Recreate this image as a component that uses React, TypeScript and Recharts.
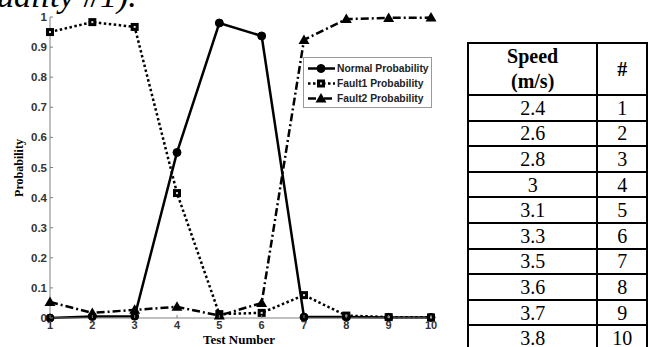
import { LineChart, Line, XAxis, YAxis, Legend } from 'recharts';

const testNumbers = [1, 2, 3, 4, 5, 6, 7, 8, 9, 10];
const normalProb = [0, 0.005, 0.006, 0.55, 0.98, 0.937, 0.003, 0.003, 0.002, 0.002];
const fault1Prob = [0.95, 0.983, 0.967, 0.415, 0.013, 0.017, 0.076, 0.008, 0.003, 0.002];
const fault2Prob = [0.053, 0.017, 0.027, 0.037, 0.008, 0.05, 0.924, 0.993, 0.997, 0.998];
const yTicks = [0, 0.1, 0.2, 0.3, 0.4, 0.5, 0.6, 0.7, 0.8, 0.9, 1];
const yTickLabels = ['0', '0.1', '0.2', '0.3', '0.4', '0.5', '0.6', '0.7', '0.8', '0.9', '1'];
const seriesNames = ['Normal Probability', 'Fault1 Probability', 'Fault2 Probability'];

const speeds = ['2.4', '2.6', '2.8', '3', '3.1', '3.3', '3.5', '3.6', '3.7', '3.8'];
const speedNumbers = ['1', '2', '3', '4', '5', '6', '7', '8', '9', '10'];

const data = testNumbers.map((t, i) => ({
  test: t,
  normal: normalProb[i],
  fault1: fault1Prob[i],
  fault2: fault2Prob[i],
}));

const axisGray = '#808080';
const tickFont = "'Liberation Sans', Arial, sans-serif";
const serif = "'Liberation Serif', 'Times New Roman', serif";

const Circle = ({ cx, cy }: any) => <circle cx={cx} cy={cy} r={4} fill="#000" stroke="#000" />;
const Square = ({ cx, cy }: any) => (
  <g>
    <rect x={cx - 4} y={cy - 4} width={8} height={8} fill="#000" />
    <rect x={cx - 1} y={cy - 1} width={2} height={2} fill="#ddd" />
  </g>
);
const Triangle = ({ cx, cy }: any) => (
  <polygon points={`${cx},${cy - 5.5} ${cx - 5.5},${cy + 4} ${cx + 5.5},${cy + 4}`} fill="#000" />
);

const BottomTick = ({ x, y, payload }: any) => (
  <g>
    <line x1={x} y1={y} x2={x} y2={y - 3} stroke={axisGray} />
    <text x={x} y={y + 11} textAnchor="middle" fontFamily={tickFont} fontWeight="bold" fontSize={11} fill="#333">
      {payload.value}
    </text>
  </g>
);
const TopTick = ({ x, y }: any) => <line x1={x} y1={y} x2={x} y2={y + 3} stroke={axisGray} />;
const LeftTick = ({ x, y, payload, index }: any) => (
  <g>
    <line x1={x} y1={y} x2={x + 3} y2={y} stroke={axisGray} />
    <text x={x - 3} y={y + 4} textAnchor="end" fontFamily={tickFont} fontWeight="bold" fontSize={11.5} fill="#333">
      {yTickLabels[index] ?? payload.value}
    </text>
  </g>
);
const RightTick = ({ x, y }: any) => <line x1={x} y1={y} x2={x - 3} y2={y} stroke={axisGray} />;

const LegendBox = () => {
  const icons = [Circle, Square, Triangle];
  const dashes = [undefined, '2.5 2.5', '8 3 2 3'];
  return (
    <div
      style={{
        width: 129,
        height: 51,
        border: '1px solid #999',
        background: '#fff',
        boxSizing: 'border-box',
        paddingTop: 3,
      }}
    >
      {seriesNames.map((name, i) => {
        const Icon = icons[i];
        return (
          <div key={name} style={{ display: 'flex', alignItems: 'center', height: 15 }}>
            <svg width={33} height={15} style={{ flex: 'none' }}>
              <line x1={4} y1={7.5} x2={31} y2={7.5} stroke="#000" strokeWidth={2.5} strokeDasharray={dashes[i]} />
              <Icon cx={17} cy={7.5} />
            </svg>
            <span style={{ fontFamily: tickFont, fontWeight: 'bold', fontSize: 10.3, color: '#222', whiteSpace: 'nowrap' }}>
              {name}
            </span>
          </div>
        );
      })}
    </div>
  );
};

const cell: React.CSSProperties = {
  border: '2px solid #000',
  padding: 0,
  textAlign: 'center',
  verticalAlign: 'middle',
};

export default function App() {
  return (
    <div
      style={{
        position: 'absolute',
        left: 0,
        top: 0,
        width: 648,
        height: 347,
        overflow: 'hidden',
        background: '#fff',
      }}
    >
      <div
        style={{
          position: 'absolute',
          left: -3,
          top: -21,
          fontFamily: serif,
          fontStyle: 'italic',
          fontSize: 34,
          lineHeight: '34px',
          whiteSpace: 'nowrap',
        }}
      >
        uality #1).
      </div>

      <div style={{ position: 'absolute', left: 0, top: 0 }}>
        <LineChart width={440} height={347} data={data} margin={{ top: 17, right: 9, bottom: 0, left: 0 }}>
          <XAxis
            dataKey="test"
            type="number"
            domain={[1, 10]}
            ticks={testNumbers}
            height={29}
            tickSize={0}
            tickMargin={0}
            tickLine={false}
            stroke={axisGray}
            tick={<BottomTick />}
            interval={0}
          />
          <XAxis
            xAxisId="top"
            dataKey="test"
            type="number"
            orientation="top"
            domain={[1, 10]}
            ticks={testNumbers}
            height={0}
            tickSize={0}
            tickMargin={0}
            tickLine={false}
            stroke={axisGray}
            tick={<TopTick />}
            interval={0}
          />
          <YAxis
            type="number"
            domain={[0, 1]}
            ticks={yTicks}
            width={50}
            tickSize={0}
            tickMargin={0}
            tickLine={false}
            stroke={axisGray}
            tick={<LeftTick />}
            interval={0}
          />
          <YAxis
            yAxisId="right"
            orientation="right"
            type="number"
            domain={[0, 1]}
            ticks={yTicks}
            width={0}
            tickSize={0}
            tickMargin={0}
            tickLine={false}
            stroke={axisGray}
            tick={<RightTick />}
            interval={0}
          />
          <Legend
            verticalAlign="middle"
            align="center"
            content={<LegendBox />}
            wrapperStyle={{ position: 'absolute', left: 303, top: 57, width: 129 }}
          />
          <Line
            dataKey="normal"
            name={seriesNames[0]}
            stroke="#000"
            strokeWidth={2.5}
            dot={(p: any) => <Circle key={`n${p.index}`} cx={p.cx} cy={p.cy} />}
            isAnimationActive={false}
          />
          <Line
            dataKey="fault1"
            name={seriesNames[1]}
            stroke="#000"
            strokeWidth={2.5}
            strokeDasharray="2.5 2.5"
            dot={(p: any) => <Square key={`a${p.index}`} cx={p.cx} cy={p.cy} />}
            isAnimationActive={false}
          />
          <Line
            dataKey="fault2"
            name={seriesNames[2]}
            stroke="#000"
            strokeWidth={2.5}
            strokeDasharray="8 3 2 3"
            dot={(p: any) => <Triangle key={`b${p.index}`} cx={p.cx} cy={p.cy} />}
            isAnimationActive={false}
          />
        </LineChart>
      </div>

      <div
        style={{
          position: 'absolute',
          left: 19,
          top: 168,
          transform: 'translate(-50%, -50%) rotate(-90deg)',
          fontFamily: serif,
          fontWeight: 'bold',
          fontSize: 12,
          whiteSpace: 'nowrap',
        }}
      >
        Probability
      </div>
      <div
        style={{
          position: 'absolute',
          left: 239,
          top: 340,
          transform: 'translate(-50%, -50%)',
          fontFamily: serif,
          fontWeight: 'bold',
          fontSize: 13,
          lineHeight: '14px',
          whiteSpace: 'nowrap',
        }}
      >
        Test Number
      </div>

      <table
        style={{
          position: 'absolute',
          left: 467,
          top: 42,
          borderCollapse: 'collapse',
          fontFamily: serif,
          fontSize: 20,
          color: '#000',
        }}
      >
        <tbody>
          <tr>
            <td style={{ ...cell, width: 128, height: 50, fontWeight: 'bold', lineHeight: '25px' }}>
              Speed
              <br />
              (m/s)
            </td>
            <td style={{ ...cell, width: 48, fontWeight: 'bold' }}>#</td>
          </tr>
          {speeds.map((s, i) => (
            <tr key={s}>
              <td style={{ ...cell, height: 23.6, lineHeight: '22px' }}>{s}</td>
              <td style={{ ...cell, lineHeight: '22px' }}>{speedNumbers[i]}</td>
            </tr>
          ))}
        </tbody>
      </table>
    </div>
  );
}
